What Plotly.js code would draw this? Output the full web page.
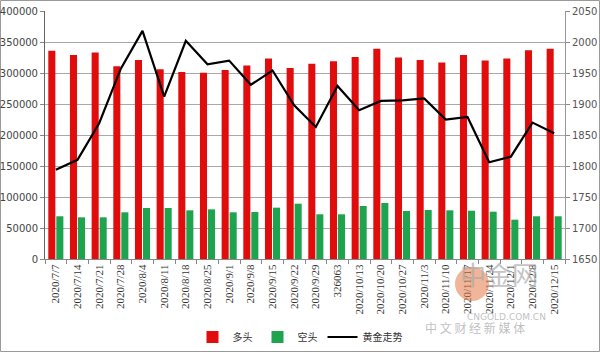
<!DOCTYPE html>
<html><head><meta charset="utf-8">
<script src="https://cdn.plot.ly/plotly-3.0.1.min.js"></script>
<style>html,body{margin:0;padding:0;background:#fff}#c{width:600px;height:352px}</style>
</head><body><div id="c"></div>
<script>
var categories = ["2020/7/7","2020/7/14","2020/7/21","2020/7/28","2020/8/4","2020/8/11","2020/8/18","2020/8/25","2020/9/1","2020/9/8","2020/9/15","2020/9/22","2020/9/29","326063","2020/10/13","2020/10/20","2020/10/27","2020/11/3","2020/11/10","2020/11/17","2020/11/24","2020/12/1","2020/12/8","2020/12/15"];
var longPos = [336000,329000,333000,311000,321000,306000,301500,300500,305000,312000,323500,308000,315000,319000,326000,339000,325000,321000,317000,329000,320000,323500,336500,339000];
var shortPos = [68900,67200,67200,75300,82300,82300,78500,80100,75300,75800,82800,89200,72100,72100,85500,90300,77400,79000,78500,77900,76300,63400,68900,68900];
var gold = [1794,1810,1869,1957,2018,1912,2002,1964,1970,1931,1954,1898,1863,1929,1890,1905,1906,1909,1875,1879,1806,1815,1870,1853];

var names = ["多头","空头","黄金走势"];

var traces = [
  {type:"bar", name:names[0], x:categories, y:longPos, marker:{color:"#e10d0d"}, hoverinfo:"skip"},
  {type:"bar", name:names[1], x:categories, y:shortPos, marker:{color:"#1ea34f"}, hoverinfo:"skip"},
  {type:"scatter", mode:"lines", name:names[2], x:categories, y:gold, yaxis:"y2", line:{color:"#000", width:2.2}, hoverinfo:"skip"}
];

var W=600,H=352,L=45,R=35,T=11,B=93;
var pw=W-L-R, ph=H-T-B;
function px(x){return (x-L)/pw;}
function py(y){return (H-B-y)/ph;}

var layout = {
  width:W, height:H,
  margin:{l:L,r:R,t:T,b:B,pad:0,autoexpand:false},
  paper_bgcolor:"#fff", plot_bgcolor:"#fff",
  barmode:"group", bargap:0.26, bargroupgap:0.12,
  showlegend:true,
  legend:{orientation:"h", xref:"container", yref:"container", x:0.5, xanchor:"center", y:(H-337)/H, yanchor:"middle",
    font:{family:"Noto Sans CJK SC", size:10, color:"#333"}, itemwidth:30, tracegroupgap:0, bgcolor:"rgba(0,0,0,0)"},
  xaxis:{type:"category", tickangle:-90, tickson:"boundaries", ticks:"outside", ticklen:4, tickcolor:"#888", automargin:false,
    showline:true, linecolor:"#888", linewidth:1, showgrid:false,
    tickfont:{family:"Liberation Serif", size:11, color:"#333"}},
  yaxis:{range:[0,400000], dtick:50000, ticks:"outside", ticklen:4, tickcolor:"#888", automargin:false,
    showline:true, linecolor:"#666", linewidth:1, gridcolor:"#a8a8a8", gridwidth:1, zeroline:false,
    tickfont:{family:"DejaVu Sans", size:10, color:"#444"}, tickformat:"d"},
  yaxis2:{range:[1650,2050], dtick:50, overlaying:"y", side:"right", ticks:"outside", ticklen:4, tickcolor:"#888", automargin:false,
    showline:true, linecolor:"#999", linewidth:1, showgrid:false, zeroline:false,
    tickfont:{family:"DejaVu Sans", size:10, color:"#555"}},
  shapes:[
    {type:"rect", xref:"paper", yref:"paper", x0:px(0.5), x1:px(599.5), y0:py(351.5), y1:py(0.5), line:{color:"#9a9a9a", width:1}, fillcolor:"rgba(0,0,0,0)", layer:"below"},
    {type:"circle", xref:"paper", yref:"paper", x0:px(455), x1:px(489), y0:py(301), y1:py(267), fillcolor:"rgba(230,120,70,0.55)", line:{width:0}}
  ],
  annotations:[
    {xref:"paper", yref:"paper", x:px(540), y:py(294), text:"中金网", showarrow:false, font:{family:"Noto Sans CJK SC", size:26, color:"rgba(170,170,170,0.7)"}},
    {xref:"paper", yref:"paper", x:px(548), y:py(324), text:"CNGOLD.COM.CN", showarrow:false, font:{family:"DejaVu Sans", size:9, color:"rgba(180,180,180,0.85)"}},
    {xref:"paper", yref:"paper", x:px(527), y:py(338), text:"中 文 财 经 新 媒 体", showarrow:false, font:{family:"Noto Sans CJK SC", size:12, color:"rgba(180,180,180,0.85)"}}
  ]
};
Plotly.newPlot("c", traces, layout, {staticPlot:true, displayModeBar:false});
</script></body></html>
